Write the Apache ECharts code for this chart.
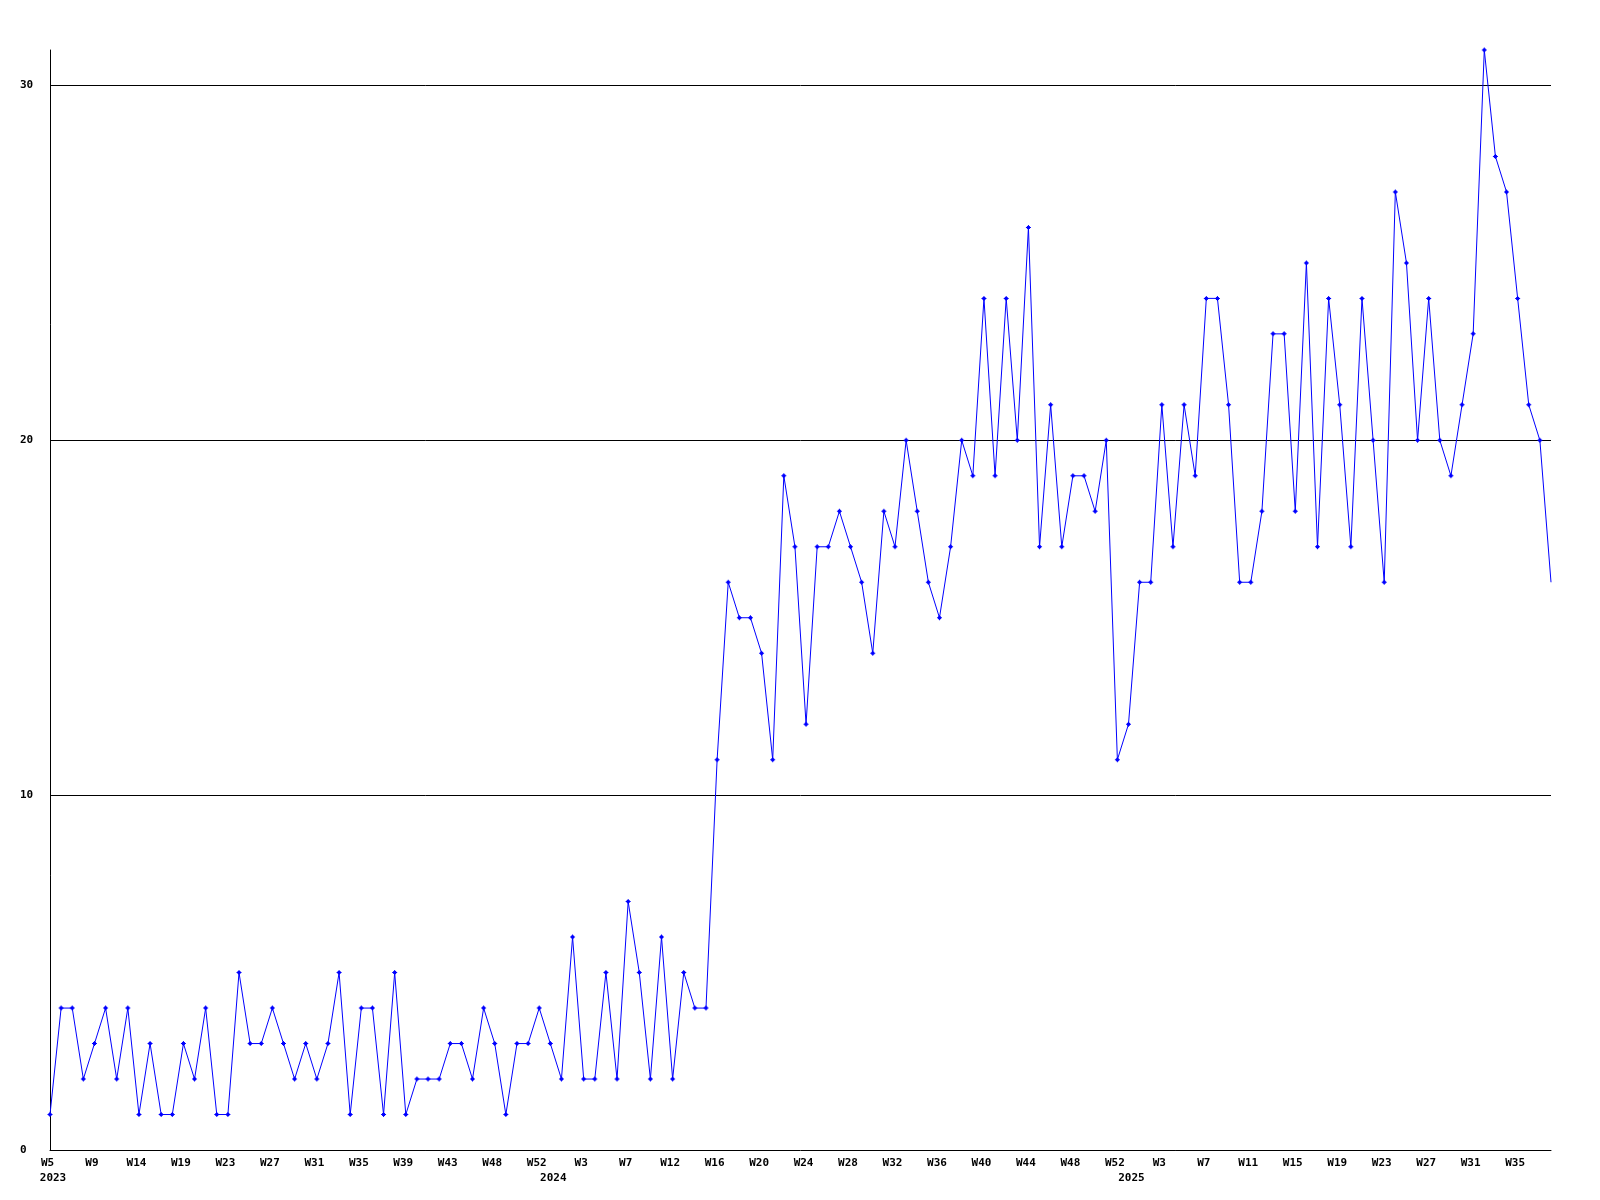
<!DOCTYPE html>
<html>
<head>
<meta charset="utf-8">
<script src="https://cdn.jsdelivr.net/npm/echarts@6/dist/echarts.min.js"></script>
<style>
  html, body { margin: 0; padding: 0; background: #ffffff; }
  #chart { width: 1600px; height: 1200px; }
</style>
</head>
<body>
<div id="chart"></div>
<script>
// Weekly values, one per point (136 points)
const values = [
  1,4,4,2,3,4,2,4,1,3,1,1,3,2,4,1,1,5,3,3,4,3,2,3,2,3,5,1,4,4,1,5,
  1,2,2,2,3,3,2,4,3,1,3,3,4,3,2,6,2,2,5,2,7,5,2,6,2,5,4,4,
  11,16,15,15,14,11,19,17,12,17,17,18,17,16,14,18,17,20,18,16,
  15,17,20,19,24,19,24,20,26,17,21,17,19,19,18,20,
  11,12,16,16,21,17,21,19,24,24,21,16,16,18,23,23,18,25,17,
  24,21,17,24,20,16,27,25,20,24,20,19,21,23,31,28,27,24,21,20,16
];
// Week tick labels, shown on every 4th point
const weekLabels = ["W5","W9","W14","W19","W23","W27","W31","W35","W39","W43","W48","W52",
  "W3","W7","W12","W16","W20","W24","W28","W32","W36","W40","W44","W48","W52",
  "W3","W7","W11","W15","W19","W23","W27","W31","W35"];
const labelStep = 4;
// Year labels and the point index they sit under
const yearLabels = ["2023","2024","2025"];
const yearIndex = [0, 45, 97];
// Y axis ticks
const yTicks = [0, 10, 20, 30];

const categories = values.map((v, i) => String(i));
const font = { fontFamily: "DejaVu Sans Mono", fontWeight: "bold", fontSize: 11, color: "#000000" };
const plusPath = 'path://M2,0H3V1H4V2H5V3H4V4H3V5H2V4H1V3H0V2H1V1H2Z';

const chart = echarts.init(document.getElementById('chart'), null, { renderer: 'canvas' });
chart.setOption({
  animation: false,
  backgroundColor: '#ffffff',
  grid: { left: 50, top: 50, right: 49, bottom: 50, containLabel: false },
  xAxis: [
    {
      type: 'category',
      data: categories,
      boundaryGap: false,
      axisLine: { show: true, lineStyle: { color: '#000000', width: 1 } },
      axisTick: { show: false },
      splitLine: { show: false },
      axisLabel: Object.assign({}, font, {
        margin: 8,
        padding: [0, 5, 0, 0],
        interval: (index) => index % labelStep === 0,
        formatter: (val, index) => (index % labelStep === 0 && weekLabels[index / labelStep]) ? weekLabels[index / labelStep] : ''
      })
    },
    {
      type: 'category',
      data: categories,
      position: 'bottom',
      boundaryGap: false,
      axisLine: { show: false },
      axisTick: { show: false },
      splitLine: { show: false },
      axisLabel: Object.assign({}, font, {
        margin: 23,
        padding: [0, 0, 0, 6],
        interval: (index) => yearIndex.indexOf(index) >= 0,
        formatter: (val, index) => {
          const k = yearIndex.indexOf(index);
          return k >= 0 ? yearLabels[k] : '';
        }
      })
    }
  ],
  yAxis: {
    type: 'value',
    min: 0,
    max: Math.max.apply(null, values),
    interval: 10,
    axisLine: { show: true, lineStyle: { color: '#000000', width: 1 } },
    axisTick: { show: false },
    splitLine: { show: true, showMinLine: false, showMaxLine: false, lineStyle: { color: '#000000', width: 1 } },
    axisLabel: Object.assign({}, font, {
      margin: 30,
      align: 'left',
      showMaxLabel: false,
      formatter: (v) => (yTicks.indexOf(v) >= 0 ? String(v) : '')
    })
  },
  series: [{
    type: 'line',
    data: values,
    xAxisIndex: 0,
    symbol: (v, params) => params.dataIndex === values.length - 1 ? 'none' : plusPath,
    symbolSize: 5,
    showAllSymbol: true,
    itemStyle: { color: '#0000ff' },
    lineStyle: { color: '#0000ff', width: 1 },
    emphasis: { disabled: true }
  }]
});
</script>
</body>
</html>
